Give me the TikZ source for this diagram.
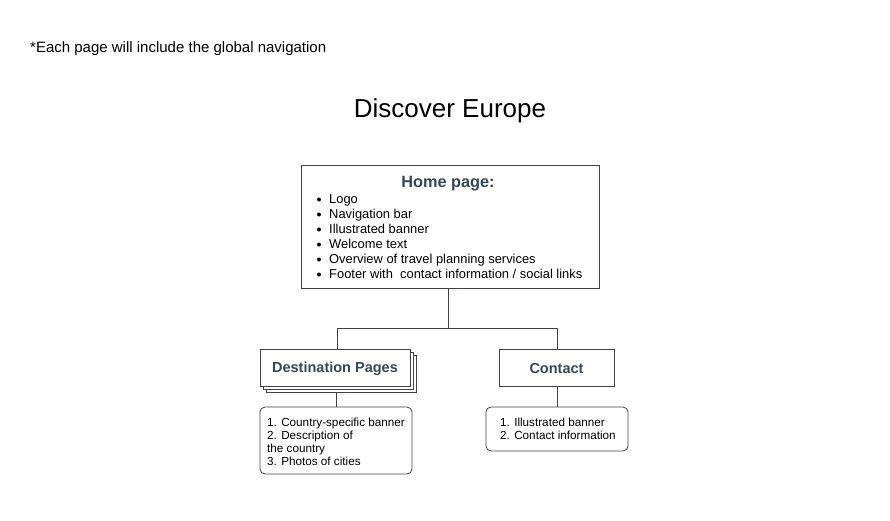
\documentclass[tikz,border=0pt]{standalone}
\usepackage{fontspec}
\setmainfont{Liberation Sans}
\usetikzlibrary{positioning}
\definecolor{ink}{HTML}{454040}
\definecolor{head}{HTML}{34475F}
\begin{document}
\begin{tikzpicture}[x=1pt,y=-1pt,
  box/.style={draw=ink,line width=0.8pt,fill=white,inner sep=0pt},
  rbox/.style={box,rounded corners=5pt},
  txt/.style={inner sep=0pt,anchor=base west,font=\fontsize{12.9}{15}\selectfont,text=black},
  dtxt/.style={txt,font=\fontsize{11.7}{14}\selectfont},
  headtxt/.style={inner sep=0pt,font=\bfseries\fontsize{14.5}{17}\selectfont,text=head},
  wire/.style={draw=ink,line width=0.8pt}]
\useasboundingbox (0,0) rectangle (890,520);
\fill[white] (0,0) rectangle (890,520);
\node[txt,font=\fontsize{15}{18}\selectfont] (note) at (30,52.5) {*Each page will include the global navigation};
\node[inner sep=0pt,font=\fontsize{26}{30}\selectfont] (title) at (450,111) {Discover Europe};
% home
\node[box,minimum width=298pt,minimum height=123pt] (home) at (450,226.5) {};
\node[headtxt,font=\bfseries\fontsize{16.3}{19}\selectfont] (hh) at (448,184) {Home page:};
\foreach \t [count=\i] in {Logo,Navigation bar,Illustrated banner,Welcome text,Overview of travel planning services,Footer with\ \ contact information / social links}{
  \node[txt] (h\i) at (329,188.5+15*\i) {\t};
  \fill (319,184.5+15*\i) circle (2pt);
}
% destination
\node[box,minimum width=150pt,minimum height=37pt] (d3) at (341,373.5) {};
\node[box,minimum width=150pt,minimum height=37pt] (d2) at (338,370.5) {};
\node[box,minimum width=150pt,minimum height=37pt] (dest) at (335,367.5) {};
\node[headtxt] at ([yshift=-1pt]dest.center) {Destination Pages};
% contact
\node[box,minimum width=115pt,minimum height=37pt] (contact) at (556.5,367.5) {};
\node[headtxt] at ([yshift=-1pt]contact.center) {Contact};
% detail boxes
\node[rbox,minimum width=152pt,minimum height=67pt] (dd) at (336,440.5) {};
\foreach \t [count=\i] in {1. Country-specific banner,2. Description of,the country,3. Photos of cities}{
  \node[dtxt] at (267,413+13*\i) {\t};
}
\node[rbox,minimum width=142pt,minimum height=44pt] (cd) at (557,429) {};
\foreach \t [count=\i] in {1. Illustrated banner,2. Contact information}{
  \node[dtxt] at (500,413+13*\i) {\t};
}
% connectors
\coordinate (j) at (448,328);
\draw[wire] (home.south -| j) -- (j);
\draw[wire] (337,328) -- (557,328);
\draw[wire] (337,328) -- (dest.north -| 337,0);
\draw[wire] (557,328) -- (contact.north -| 557,0);
\draw[wire] (d3.south -| 336,0) -- (dd.north -| 336,0);
\draw[wire] (contact.south -| 557,0) -- (cd.north -| 557,0);
\end{tikzpicture}
\end{document}
